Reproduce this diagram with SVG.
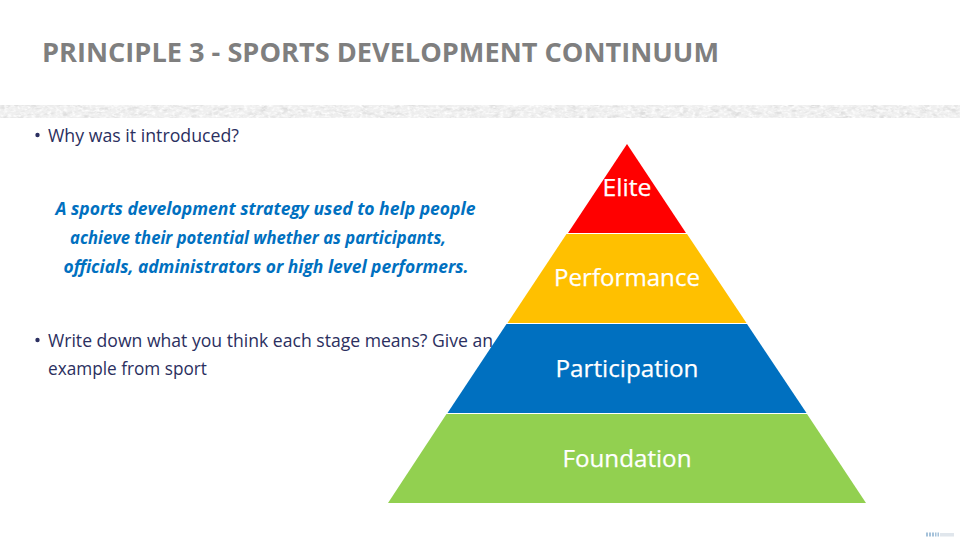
<svg xmlns="http://www.w3.org/2000/svg" width="960" height="540" viewBox="0 0 960 540">
<defs>
<filter id="grain" x="0" y="0" width="100%" height="100%" color-interpolation-filters="sRGB"><feTurbulence type="fractalNoise" baseFrequency="0.25 0.4" numOctaves="2" seed="4"/><feColorMatrix values="0 0 0 0 1  0 0 0 0 1  0 0 0 0 1  2.5 0 0 0 -1.1"/></filter>
<filter id="grain2" x="0" y="0" width="100%" height="100%" color-interpolation-filters="sRGB"><feTurbulence type="fractalNoise" baseFrequency="0.1 0.25" numOctaves="2" seed="9"/><feColorMatrix values="0 0 0 0 0.87  0 0 0 0 0.87  0 0 0 0 0.87  0 3 0 0 -1.4"/></filter>
</defs>
<style>
text{font-family:"Open Sans","Noto Sans","Liberation Sans",sans-serif}
.title{font-size:26.5px;font-weight:700;fill:#7f7f7f}
.body{font-size:18px;fill:#2b2f60}
.quote{font-size:17.3px;font-weight:700;font-style:italic;fill:#0070c0;text-anchor:middle}
.lab{font-size:24px;fill:#fff;text-anchor:middle;stroke:#fff;stroke-width:.25px}
</style>
<rect width="960" height="540" fill="#fff"/>
<text class="title" x="42" y="62" textLength="677" lengthAdjust="spacingAndGlyphs">PRINCIPLE 3 - SPORTS DEVELOPMENT CONTINUUM</text>
<g id="band"><rect x="0" y="105" width="960" height="13" fill="#efefef"/><rect x="0" y="105" width="960" height="13" filter="url(#grain2)"/><rect x="0" y="105" width="960" height="13" filter="url(#grain)"/></g>
<g id="text-left">
<circle cx="37.5" cy="135" r="2.2" fill="#2b2f60"/>
<text class="body" x="48" y="142" textLength="191" lengthAdjust="spacingAndGlyphs">Why was it introduced?</text>
<text class="quote" x="265.500" y="215" textLength="420" lengthAdjust="spacingAndGlyphs">A sports development strategy used to help people</text>
<text class="quote" x="258" y="244" textLength="376" lengthAdjust="spacingAndGlyphs">achieve their potential whether as participants,</text>
<text class="quote" x="266" y="273" textLength="405" lengthAdjust="spacingAndGlyphs">officials, administrators or high level performers.</text>
<circle cx="37.5" cy="340" r="2.2" fill="#2b2f60"/>
<text class="body" x="48" y="347" textLength="445" lengthAdjust="spacingAndGlyphs">Write down what you think each stage means? Give an</text>
<text class="body" x="48" y="375" textLength="159" lengthAdjust="spacingAndGlyphs">example from sport</text>
</g>
<g id="elite"><polygon points="627,144 686,233 568,233" fill="#ff0000"/><text class="lab" x="627" y="196" textLength="49" lengthAdjust="spacingAndGlyphs">Elite</text></g>
<g id="performance"><polygon points="566.500,234 687,234 746.500,323 507.500,323" fill="#ffc000"/><text class="lab" x="627" y="286" textLength="146" lengthAdjust="spacingAndGlyphs">Performance</text></g>
<g id="participation"><polygon points="506.500,324 747,324 806.500,413 447.500,413" fill="#0070c0"/><text class="lab" x="627" y="377" textLength="143" lengthAdjust="spacingAndGlyphs">Participation</text></g>
<g id="foundation"><polygon points="446.500,414 807,414 866,503 388,503" fill="#92d050"/><text class="lab" x="627" y="467" textLength="129" lengthAdjust="spacingAndGlyphs">Foundation</text></g>
<g id="logo"><path d="M926 532.500h2v4h-2zM929 532.500h2v4h-2zM932 532.500h2v4h-2zM935 532.500h1.500v4h-1.500zM937.500 532.500h1.500v4h-1.500z" fill="#a5c2da"/><rect x="940" y="533" width="14" height="3.500" fill="#e0e6ec"/></g>
<g id="connectors"/>
</svg>
